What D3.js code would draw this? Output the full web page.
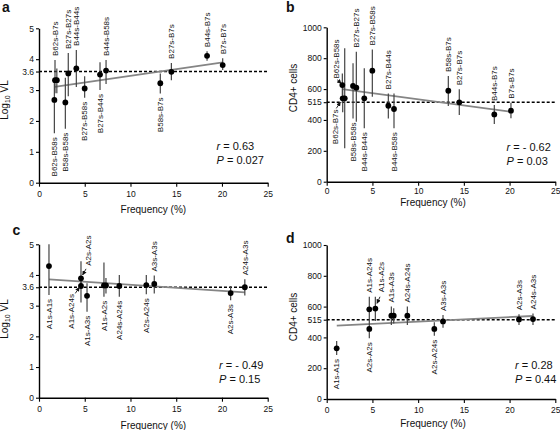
<!DOCTYPE html>
<html><head><meta charset="utf-8">
<script src="https://cdn.jsdelivr.net/npm/d3@7"></script>
<style>
body{margin:0;background:#fff}
svg{display:block}
text{font-family:"Liberation Sans",Arial,sans-serif;fill:#111}
</style>
</head><body>
<svg id="chart" width="560" height="430"></svg>
<script>
// ---------- shared ----------
const xTicks = [0, 5, 10, 15, 20, 25];
const vlTicks = [0, 1, 2, 3, 4, 5];
const cd4Ticks = [0, 200, 400, 600, 800, 1000];
const vlRef = 3.6;
const cd4Ref = 515;

// ---------- panel a : Log10 VL vs frequency (HLA-B) ----------
const aFreq  = [1.68, 1.75, 1.95, 2.88, 3.2, 4.08, 4.99, 6.67, 7.33, 13.26, 14.47, 18.37, 20.08];
const aVL    = [2.68, 3.32, 3.32, 2.6, 3.54, 3.7, 3.05, 3.5, 3.63, 3.22, 3.59, 4.11, 3.81];
const aLo    = [1.6, 2.9, 2.9, 1.75, 2.8, 3.1, 2.75, 3.0, 3.2, 2.89, 3.32, 3.95, 3.65];
const aHi    = [3.3, 3.97, 3.7, 3.4, 4.2, 4.3, 3.45, 3.9, 3.97, 3.54, 3.88, 4.26, 4.03];
const aLabel = ['B62s-B58s','B62s-B7s','','B58s-B58s','B27s-B27s','B44s-B44s','B27s-B58s','B27s-B44s','B44s-B58s','B58s-B7s','B27s-B7s','B44s-B7s','B7s-B7s'];
const aSide  = ['down','up','','down','up','up','down','down','up','down','up','up','up'];
const aFit   = [[1.7, 3.1], [20.1, 3.9]];
const aStats = ['0.63', '0.027'];
const aArrows = [];

// ---------- panel b : CD4+ cells vs frequency (HLA-B) ----------
const bFreq  = [1.71, 1.75, 1.97, 2.88, 3.24, 4.11, 4.99, 6.74, 7.36, 13.3, 14.5, 18.33, 20.15];
const bCD4   = [626, 540, 540, 620, 609, 540, 719, 492, 471, 589, 514, 436, 460];
const bLo    = [560, 450, 216, 410, 389, 346, 551, 410, 346, 490, 432, 374, 411];
const bHi    = [700, 640, 864, 767, 842, 734, 857, 572, 572, 685, 598, 497, 512];
const bLabel = ['','','','B58s-B58s','B27s-B27s','B44s-B44s','B27s-B58s','B27s-B44s','B44s-B58s','B58s-B7s','B27s-B7s','B44s-B7s','B7s-B7s'];
const bSide  = ['','','','down','up','down','up','up','down','up','up','up','up'];
const bFit   = [[1.7, 600], [20.1, 453]];
const bStats = ['- 0.62', '0.03'];
const bArrows = [
  {text: 'B62s-B58s', side: 'up',   at: [1.05, 668], from: [1.15, 660], to: [1.58, 636]},
  {text: 'B62s-B7s',  side: 'down', at: [0.95, 468], from: [1.05, 475], to: [1.5, 515]}
];

// ---------- panel c : Log10 VL vs frequency (HLA-A) ----------
const cFreq  = [1.09, 4.59, 4.59, 5.25, 7.1, 7.32, 8.78, 11.73, 12.6, 20.95, 22.5];
const cVL    = [4.29, 3.89, 3.64, 3.32, 3.66, 3.66, 3.64, 3.67, 3.71, 3.41, 3.6];
const cLo    = [3.35, 3.6, 3.1, 2.8, 3.29, 3.4, 3.29, 3.37, 3.4, 3.18, 3.33];
const cHi    = [5.0, 4.45, 3.9, 3.73, 4.41, 3.9, 4.0, 4.0, 3.98, 3.64, 3.86];
const cLabel = ['A1s-A1s','','','A1s-A3s','A1s-A2s','','A24s-A24s','A2s-A24s','A3s-A3s','A2s-A3s','A24s-A3s'];
const cSide  = ['down','','','down','down','','down','down','up','down','up'];
const cFit   = [[1.1, 3.86], [22.5, 3.43]];
const cStats = ['- 0.49', '0.15'];
const cArrows = [
  {text: 'A2s-A2s',  side: 'up',   at: [5.39, 4.3],  from: [5.14, 4.2], to: [4.77, 4.0]},
  {text: 'A1s-A24s', side: 'down', at: [3.57, 3.38], from: [3.97, 3.4], to: [4.41, 3.6]}
];

// ---------- panel d : CD4+ cells vs frequency (HLA-A) ----------
const dFreq  = [1.09, 4.66, 4.66, 5.32, 7.07, 7.33, 8.82, 11.77, 12.72, 21.03, 22.56];
const dCD4   = [329, 582, 455, 587, 541, 541, 541, 455, 504, 517, 519];
const dLo    = [286, 506, 394, 506, 480, 490, 480, 411, 463, 480, 480];
const dHi    = [377, 664, 506, 664, 600, 590, 600, 498, 545, 550, 556];
const dLabel = ['A1s-A1s','A1s-A24s','A2s-A2s','','A1s-A3s','','A24s-A24s','A2s-A24s','A3s-A3s','A2s-A3s','A24s-A3s'];
const dSide  = ['down','up','down','','up','','up','down','up','up','up'];
const dFit   = [[1.1, 476], [22.5, 539]];
const dStats = ['0.28', '0.44'];
const dArrows = [
  {text: 'A1s-A2s', side: 'up', at: [6.01, 693], from: [5.83, 664], to: [5.5, 621]}
];

// ---------- drawing ----------
const svg = d3.select('#chart');
svg.append('defs').append('marker')
  .attr('id', 'ah').attr('viewBox', '0 0 10 10').attr('refX', 9).attr('refY', 5)
  .attr('markerWidth', 5).attr('markerHeight', 5).attr('orient', 'auto')
  .append('path').attr('d', 'M0,0 L10,5 L0,10 z').attr('fill', '#111');

function panel(cfg) {
  const g = svg.append('g');
  const x = d3.scaleLinear().domain([0, 25]).range([cfg.x0, cfg.x1]);
  const y = d3.scaleLinear().domain([0, cfg.ymax]).range([cfg.y0, cfg.y1]);

  // axes
  const xa = g.append('g').attr('transform', `translate(0,${cfg.y0})`)
    .call(d3.axisBottom(x).tickValues(xTicks).tickSize(4).tickSizeOuter(0).tickPadding(cfg.xPad));
  const ya = g.append('g').attr('transform', `translate(${cfg.x0},0)`)
    .call(d3.axisLeft(y).tickValues([...cfg.yTicks, cfg.ref]).tickSize(3).tickSizeOuter(0).tickPadding(2)
      .tickFormat(d => String(d)));
  [xa, ya].forEach(a => {
    a.select('.domain').attr('stroke', '#000').attr('stroke-width', 1.4);
    a.selectAll('.tick line').attr('stroke', '#000').attr('stroke-width', 1.1);
    a.selectAll('.tick text').attr('font-size', 8.5).attr('fill', '#222')
      .attr('font-family', '"Liberation Sans",Arial,sans-serif');
  });

  // reference dashed line
  g.append('line')
    .attr('x1', x(0)).attr('x2', x(25)).attr('y1', y(cfg.ref)).attr('y2', y(cfg.ref))
    .attr('stroke', '#000').attr('stroke-width', 1.5).attr('stroke-dasharray', '3,2');

  // regression line
  g.append('line')
    .attr('x1', x(cfg.fit[0][0])).attr('y1', y(cfg.fit[0][1]))
    .attr('x2', x(cfg.fit[1][0])).attr('y2', y(cfg.fit[1][1]))
    .attr('stroke', '#858585').attr('stroke-width', 1.8);

  const idx = d3.range(cfg.freq.length);
  // error bars
  g.selectAll('.eb').data(idx).enter().append('line')
    .attr('x1', i => x(cfg.freq[i])).attr('x2', i => x(cfg.freq[i]))
    .attr('y1', i => y(cfg.lo[i])).attr('y2', i => y(cfg.hi[i]))
    .attr('stroke', '#444').attr('stroke-width', 1.2);
  // points
  g.selectAll('.pt').data(idx).enter().append('circle')
    .attr('cx', i => x(cfg.freq[i])).attr('cy', i => y(cfg.val[i])).attr('r', 2.9)
    .attr('fill', '#000');

  // point labels
  const lab = idx.filter(i => cfg.label[i]);
  g.selectAll('.lb').data(lab).enter().append('text')
    .attr('transform', i => {
      const px = x(cfg.freq[i]);
      const py = cfg.side[i] === 'up' ? y(cfg.hi[i]) - 4 : y(cfg.lo[i]) + 4;
      return `translate(${px},${py}) rotate(-90)`;
    })
    .attr('text-anchor', i => cfg.side[i] === 'up' ? 'start' : 'end')
    .attr('dy', '0.35em').attr('font-size', 8).attr('fill', '#222')
    .text(i => cfg.label[i]);

  // arrowed labels
  cfg.arrows.forEach(a => {
    g.append('text')
      .attr('transform', `translate(${x(a.at[0])},${y(a.at[1])}) rotate(-90)`)
      .attr('text-anchor', a.side === 'up' ? 'start' : 'end')
      .attr('dy', '0.35em').attr('font-size', 8).attr('fill', '#222')
      .text(a.text);
    g.append('line')
      .attr('x1', x(a.from[0])).attr('y1', y(a.from[1]))
      .attr('x2', x(a.to[0])).attr('y2', y(a.to[1]))
      .attr('stroke', '#111').attr('stroke-width', 0.9).attr('marker-end', 'url(#ah)');
  });

  // stats
  const s1 = g.append('text').attr('x', cfg.statX).attr('y', cfg.statY).attr('font-size', 11);
  s1.append('tspan').attr('font-style', 'italic').text('r');
  s1.append('tspan').text(' = ' + cfg.stats[0]);
  const s2 = g.append('text').attr('x', cfg.statX).attr('y', cfg.statY + 14).attr('font-size', 11);
  s2.append('tspan').attr('font-style', 'italic').text('P');
  s2.append('tspan').text(' = ' + cfg.stats[1]);

  // axis titles
  g.append('text').attr('x', (cfg.x0 + cfg.x1) / 2 + cfg.xlabDx).attr('y', cfg.xlabY)
    .attr('text-anchor', 'middle').attr('font-size', 10).attr('fill', '#222').text('Frequency (%)');
  const yt = g.append('text')
    .attr('transform', `translate(${cfg.ylabX},${cfg.ylabY}) rotate(-90)`)
    .attr('text-anchor', 'middle').attr('font-size', 10).attr('fill', '#222');
  if (cfg.vl) {
    yt.append('tspan').text('Log');
    yt.append('tspan').attr('font-size', 7).attr('dy', 2).text('10');
    yt.append('tspan').attr('dy', -2).text(' VL');
  } else {
    yt.text('CD4+ cells');
  }

  // panel letter
  g.append('text').attr('x', cfg.letX).attr('y', cfg.letY)
    .attr('font-size', 14).attr('font-weight', 'bold').attr('fill', '#000').text(cfg.letter);
}

panel({letter: 'a', letX: 2, letY: 12, vl: true,
  x0: 39, x1: 267.7, y0: 182.7, y1: 28.3, ymax: 5, yTicks: vlTicks, ref: vlRef,
  freq: aFreq, val: aVL, lo: aLo, hi: aHi, label: aLabel, side: aSide, fit: aFit, arrows: aArrows,
  stats: aStats, statX: 216.5, statY: 150, xPad: 4, xlabDx: 0, xlabY: 213, ylabX: 8, ylabY: 100});

panel({letter: 'b', letX: 286, letY: 12, vl: false,
  x0: 326.7, x1: 555.3, y0: 181.7, y1: 27.3, ymax: 1000, yTicks: cd4Ticks, ref: cd4Ref,
  freq: bFreq, val: bCD4, lo: bLo, hi: bHi, label: bLabel, side: bSide, fit: bFit, arrows: bArrows,
  stats: bStats, statX: 506.5, statY: 151, xPad: 2.5, xlabDx: -8, xlabY: 206, ylabX: 297, ylabY: 88});

panel({letter: 'c', letX: 12.5, letY: 235, vl: true,
  x0: 39, x1: 267.7, y0: 397.7, y1: 244.3, ymax: 5, yTicks: vlTicks, ref: vlRef,
  freq: cFreq, val: cVL, lo: cLo, hi: cHi, label: cLabel, side: cSide, fit: cFit, arrows: cArrows,
  stats: cStats, statX: 219, statY: 369, xPad: 4, xlabDx: 0, xlabY: 428.5, ylabX: 8, ylabY: 319});

panel({letter: 'd', letX: 286, letY: 243, vl: false,
  x0: 326.7, x1: 555.3, y0: 399, y1: 245, ymax: 1000, yTicks: cd4Ticks, ref: cd4Ref,
  freq: dFreq, val: dCD4, lo: dLo, hi: dHi, label: dLabel, side: dSide, fit: dFit, arrows: dArrows,
  stats: dStats, statX: 515, statY: 369, xPad: 4, xlabDx: -8, xlabY: 427, ylabX: 297, ylabY: 317});
</script>
</body></html>
